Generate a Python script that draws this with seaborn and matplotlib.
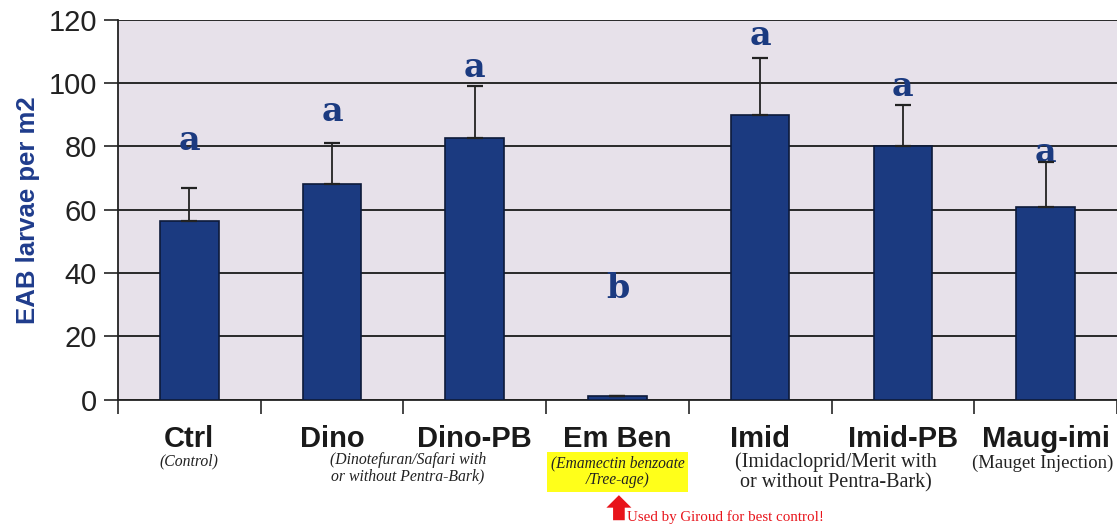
import numpy as np
import pandas as pd
import matplotlib
matplotlib.use("Agg")
import matplotlib.pyplot as plt
import seaborn as sns

# values
treatments = ["Ctrl", "Dino", "Dino-PB", "Em Ben", "Imid", "Imid-PB", "Maug-imi"]
larvae = [56.5, 68.0, 82.7, 1.0, 90.0, 80.2, 61.0]
err_upper = [10.5, 13.0, 16.5, 0.0, 18.0, 13.0, 14.0]
letters = ["a", "a", "a", "b", "a", "a", "a"]
letter_y = [82, 91, 105, 35, 115, 99, 78]

# explanatory notes under the category names (x in category units)
notes = ["(Control)", "(Dinotefuran/Safari with\nor without Pentra-Bark)",
         "(Emamectin benzoate\n/Tree-age)", "(Imidacloprid/Merit with\nor without Pentra-Bark)",
         "(Mauget Injection)"]
note_x = [0, 1.53, 3, 4.53, 5.98]
note_y = [-0.164, -0.181, -0.191, -0.192, -0.168]
note_size = [11.3, 11.3, 11.2, 14.5, 13.5]
note_italic = [True, True, True, False, False]
yticks = [0, 20, 40, 60, 80, 100, 120]

navy = "#1b3a80"
df = pd.DataFrame({"treatment": treatments, "larvae": larvae})

sns.set_style("white")
plt.rcParams["font.family"] = ["Liberation Sans", "DejaVu Sans"]

fig = plt.figure(figsize=(11.17, 5.25), dpi=100)
ax = fig.add_axes([0.1056, 0.239, 0.8944, 0.723])
ax.set_facecolor("#e7e1ea")

sns.barplot(data=df, x="treatment", y="larvae", color=navy, width=0.41,
            edgecolor="#0d1a3a", linewidth=1.2, saturation=1, ax=ax, zorder=3)
pos = np.arange(len(treatments))
ax.errorbar(pos, larvae, yerr=[np.zeros(len(larvae)), err_upper], fmt="none",
            ecolor="#222222", elinewidth=1.3, capsize=6, capthick=1.6, zorder=4)

ax.set_ylim(0, 120)
ax.set_xlim(-0.5, len(treatments) - 0.5)
ax.set_yticks(yticks)
ax.yaxis.grid(True, color="#1a1a1a", linewidth=1.3, zorder=0)
ax.set_axisbelow(True)
ax.tick_params(axis="y", labelsize=21, length=10, width=1.2, direction="out",
               left=True, pad=5, colors="#222222")
ax.set_xticks(pos)
ax.set_xticklabels([])
ax.tick_params(axis="x", which="major", length=0)
ax.set_xticks(np.arange(len(treatments) + 1) - 0.5, minor=True)
ax.tick_params(axis="x", which="minor", length=10, width=1.2, direction="out", bottom=True)
ax.set_xlabel("")
ax.set_ylabel("EAB larvae per m2", fontsize=18.5, fontweight="bold", color="#1f3c8c", labelpad=6)

for s in ["top", "right"]:
    ax.spines[s].set_visible(False)
ax.spines["left"].set_color("#222222")
ax.spines["left"].set_linewidth(1.3)
ax.spines["bottom"].set_color("#222222")
ax.spines["bottom"].set_linewidth(1.3)

for i, (let, ly) in enumerate(zip(letters, letter_y)):
    ax.text(i, ly, let, ha="center", va="center", fontsize=24, fontweight="bold",
            family="DejaVu Serif", color=navy)

trans = ax.get_xaxis_transform()
for i, name in enumerate(treatments):
    ax.text(i, -0.105, name, transform=trans, ha="center", va="center",
            fontsize=21, fontweight="bold", color="#1a1a1a")

for txt, nx, ny, fs, it in zip(notes, note_x, note_y, note_size, note_italic):
    t = ax.text(nx, ny, txt, transform=trans, ha="center", va="center", fontsize=fs,
                style="italic" if it else "normal", family="Liberation Serif",
                color="#222222", linespacing=1.05)
    if txt.startswith("(Emamectin"):
        t.set_bbox(dict(facecolor="#ffff1a", edgecolor="none", pad=2.5))

ax.annotate("", xy=(3.01, -0.252), xytext=(3.01, -0.318), xycoords=trans, textcoords=trans,
            arrowprops=dict(arrowstyle="simple,head_width=0.9,head_length=0.45,tail_width=0.42",
                            mutation_scale=20, shrinkA=0, shrinkB=0,
                            color="#e8141b", lw=0), annotation_clip=False)
ax.text(3.065, -0.310, "Used by Giroud for best control!", transform=trans, ha="left",
        va="center", fontsize=10.8, family="Liberation Serif", color="#e8141b")

fig.savefig("out.png", dpi=100)
